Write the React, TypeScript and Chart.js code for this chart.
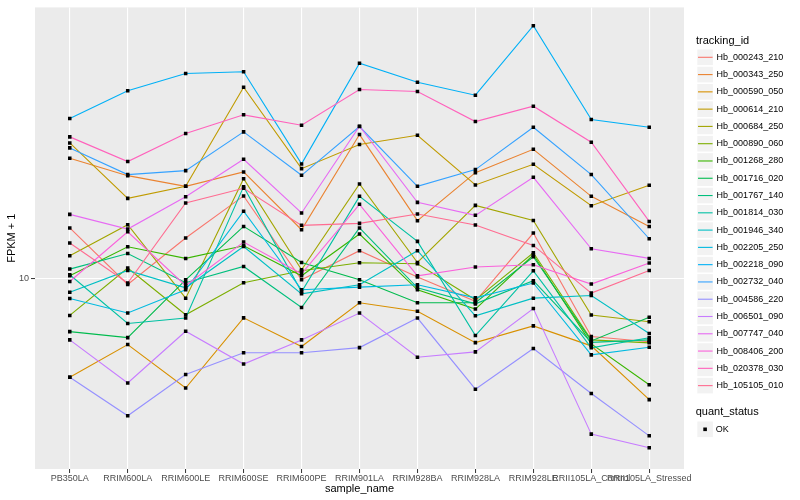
import React, { useEffect, useRef } from "react";
import { Chart, registerables } from "chart.js";

Chart.register(...registerables);

// ---- data ----
const sampleNames = [
  "PB350LA", "RRIM600LA", "RRIM600LE", "RRIM600SE", "RRIM600PE", "RRIM901LA",
  "RRIM928BA", "RRIM928LA", "RRIM928LE", "RRII105LA_Control", "RRII105LA_Stressed",
];

const trackingIds = [
  "Hb_000243_210", "Hb_000343_250", "Hb_000590_050", "Hb_000614_210", "Hb_000684_250",
  "Hb_000890_060", "Hb_001268_280", "Hb_001716_020", "Hb_001767_140", "Hb_001814_030",
  "Hb_001946_340", "Hb_002205_250", "Hb_002218_090", "Hb_002732_040", "Hb_004586_220",
  "Hb_006501_090", "Hb_007747_040", "Hb_008406_200", "Hb_020378_030", "Hb_105105_010",
];

const hb_000243_210 = [14.76, 9.57, 13.67, 18.87, 9.92, 12.40, 10.13, 8.41, 14.20, 6.42, 6.17];
const hb_000343_250 = [25.18, 22.04, 20.31, 22.68, 14.56, 30.20, 15.61, 22.56, 26.98, 18.81, 14.94];
const hb_000590_050 = [4.70, 6.04, 4.33, 7.41, 5.95, 8.32, 7.80, 6.13, 6.97, 5.98, 3.96];
const hb_000614_210 = [28.33, 18.52, 20.31, 43.42, 23.26, 27.97, 30.04, 20.53, 24.04, 17.51, 20.47];
const hb_000684_250 = [11.93, 15.14, 8.62, 21.54, 10.72, 20.69, 11.33, 17.55, 15.64, 7.57, 7.19];
const hb_000890_060 = [7.55, 10.86, 7.59, 9.70, 10.63, 11.31, 11.22, 8.51, 12.21, 6.26, 6.12];
const hb_001268_280 = [10.23, 12.78, 11.69, 12.88, 10.23, 14.09, 9.19, 7.93, 12.02, 6.07, 4.44];
const hb_001716_020 = [6.67, 6.37, 9.92, 14.94, 11.33, 9.92, 8.32, 8.32, 11.84, 6.21, 7.45];
const hb_001767_140 = [10.77, 12.14, 9.70, 10.99, 8.02, 14.76, 9.33, 8.25, 9.85, 6.14, 6.26];
const hb_001814_030 = [10.31, 7.10, 7.40, 20.26, 9.05, 18.81, 13.32, 6.47, 10.63, 5.89, 6.36];
const hb_001946_340 = [9.02, 10.66, 9.33, 12.81, 8.91, 9.55, 12.40, 7.53, 8.62, 8.80, 6.57];
const hb_002205_250 = [8.60, 7.69, 9.19, 16.79, 9.19, 9.38, 9.55, 8.64, 9.68, 5.58, 5.92];
const hb_002218_090 = [34.15, 42.24, 48.23, 48.87, 24.12, 52.20, 45.11, 40.83, 69.55, 33.88, 31.94];
const hb_002732_040 = [27.27, 22.22, 22.91, 30.83, 22.10, 32.11, 20.31, 23.09, 31.94, 22.22, 13.59];
const hb_004586_220 = [4.70, 3.50, 4.80, 5.67, 5.67, 5.90, 7.40, 4.29, 5.86, 4.15, 3.00];
const hb_006501_090 = [6.26, 4.50, 6.69, 5.20, 6.26, 7.69, 5.48, 5.71, 7.96, 3.04, 2.74];
const hb_007747_040 = [16.38, 14.64, 18.76, 24.99, 16.56, 32.19, 17.96, 16.26, 21.76, 12.59, 11.69];
const hb_008406_200 = [9.79, 14.34, 9.48, 13.25, 10.39, 17.69, 10.23, 10.94, 11.13, 9.60, 11.28];
const hb_020378_030 = [29.67, 24.55, 30.43, 35.13, 32.43, 42.66, 42.00, 33.37, 37.53, 28.47, 15.52];
const hb_105105_010 = [13.15, 9.68, 17.88, 20.00, 15.06, 15.29, 16.43, 15.10, 12.91, 8.96, 10.66];

const seriesValues = [
  hb_000243_210, hb_000343_250, hb_000590_050, hb_000614_210, hb_000684_250,
  hb_000890_060, hb_001268_280, hb_001716_020, hb_001767_140, hb_001814_030,
  hb_001946_340, hb_002205_250, hb_002218_090, hb_002732_040, hb_004586_220,
  hb_006501_090, hb_007747_040, hb_008406_200, hb_020378_030, hb_105105_010,
];

const yTickValues = [10];
const quantStatus = ["OK"];

// ---- styles ----
const palette = [
  "#F8766D", "#EA8331", "#D89000", "#C09B00", "#A3A500",
  "#7CAE00", "#39B600", "#00BB4E", "#00BF7D", "#00C1A3",
  "#00BFC4", "#00BAE0", "#00B0F6", "#35A2FF", "#9590FF",
  "#C77CFF", "#E76BF3", "#FA62DB", "#FF62BC", "#FF6C91",
];

const FONT = '"Liberation Sans", Arial, Helvetica, sans-serif';

const panelBg = {
  id: "panelBg",
  beforeDraw(chart: any) {
    const { ctx, chartArea } = chart;
    ctx.save();
    ctx.fillStyle = "#FFFFFF";
    ctx.fillRect(0, 0, chart.width, chart.height);
    ctx.fillStyle = "#EBEBEB";
    ctx.fillRect(chartArea.left, chartArea.top, chartArea.right - chartArea.left, chartArea.bottom - chartArea.top);
    ctx.restore();
  },
};

const ggLegend = {
  id: "ggLegend",
  afterDraw(chart: any) {
    const c = chart.ctx;
    c.save();
    c.textAlign = "left";
    c.textBaseline = "middle";
    c.fillStyle = "#000";
    c.font = `11px ${FONT}`;
    c.fillText("tracking_id", 696, 40.5);
    const step = 17.28;
    trackingIds.forEach((id, i) => {
      const cy = 57.3 + i * step;
      c.fillStyle = "#F2F2F2";
      c.fillRect(697.3, cy - 7.8, 15.6, 15.6);
      c.strokeStyle = palette[i];
      c.lineWidth = 1.1;
      c.beginPath();
      c.moveTo(698, cy);
      c.lineTo(712.6, cy);
      c.stroke();
      c.fillStyle = "#000";
      c.font = `9px ${FONT}`;
      c.fillText(id, 716.6, cy);
    });
    c.font = `11px ${FONT}`;
    c.fillText("quant_status", 695.7, 412.3);
    quantStatus.forEach((s, i) => {
      const cy = 429.3 + i * step;
      c.fillStyle = "#F2F2F2";
      c.fillRect(697.3, cy - 7.8, 15.6, 15.6);
      c.fillStyle = "#000";
      c.fillRect(705.1 - 1.8, cy - 1.8, 3.6, 3.6);
      c.font = `9px ${FONT}`;
      c.fillText(s, 715.7, cy);
    });
    c.restore();
  },
};

export default function App() {
  const ref = useRef<HTMLCanvasElement>(null);

  useEffect(() => {
    document.body.style.margin = "0";
    Chart.defaults.font.family = FONT;
    const canvas = ref.current;
    if (!canvas) return;

    const lineSets = seriesValues.map((vals, i) => ({
      label: trackingIds[i],
      data: vals.map((v, j) => ({ x: j, y: v })),
      borderColor: palette[i],
      backgroundColor: palette[i],
      borderWidth: 1.1,
      pointRadius: 0,
      pointHoverRadius: 0,
      tension: 0,
      fill: false,
      order: 100 - i,
    }));
    const pointSets = seriesValues.map((vals, i) => ({
      label: trackingIds[i] + " points",
      data: vals.map((v, j) => ({ x: j, y: v })),
      showLine: false,
      pointStyle: "rect",
      pointRadius: 2.5,
      pointBorderWidth: 0,
      pointBackgroundColor: "#000000",
      pointBorderColor: "#000000",
      order: 0,
    }));

    const chart = new Chart(canvas, {
      type: "line",
      data: { datasets: [...lineSets, ...pointSets] as any },
      options: {
        responsive: false,
        animation: false,
        layout: { padding: { top: 5, right: 116, bottom: 0, left: 0 } },
        plugins: {
          legend: { display: false },
          tooltip: { enabled: false },
        },
        scales: {
          x: {
            type: "linear",
            min: -0.6,
            max: 10.6,
            afterBuildTicks: (s: any) => {
              s.ticks = sampleNames.map((_, i) => ({ value: i }));
            },
            afterFit: (s: any) => {
              s.height = 31;
            },
            ticks: {
              callback: (v: any) => sampleNames[v] ?? "",
              autoSkip: false,
              maxRotation: 0,
              minRotation: 0,
              color: "#4D4D4D",
              font: { size: 9 },
              padding: 0,
            },
            grid: {
              color: "#FFFFFF",
              lineWidth: 1.1,
              tickColor: "#333333",
              tickLength: 4,
              tickWidth: 1,
            },
            border: { display: false },
            title: {
              display: true,
              text: "sample_name",
              color: "#000000",
              font: { size: 11 },
              padding: { top: 0, bottom: 4.4 },
            },
          },
          y: {
            type: "logarithmic",
            min: 2.327,
            max: 80.04,
            afterBuildTicks: (s: any) => {
              s.ticks = yTickValues.map((v) => ({ value: v }));
            },
            afterFit: (s: any) => {
              s.width = 35;
            },
            ticks: {
              callback: (v: any) => String(v),
              color: "#4D4D4D",
              font: { size: 9 },
              padding: 2,
            },
            grid: {
              color: "#FFFFFF",
              lineWidth: 1.1,
              tickColor: "#333333",
              tickLength: 4,
              tickWidth: 1,
            },
            border: { display: false },
            title: {
              display: true,
              text: "FPKM + 1",
              color: "#000000",
              font: { size: 11 },
              padding: { top: 5, bottom: 0 },
            },
          },
        },
      } as any,
      plugins: [panelBg, ggLegend],
    });

    return () => chart.destroy();
  }, []);

  return (
    <div style={{ width: 800, height: 500, position: "relative" }}>
      <canvas ref={ref} width={800} height={500} style={{ width: 800, height: 500 }} />
    </div>
  );
}
